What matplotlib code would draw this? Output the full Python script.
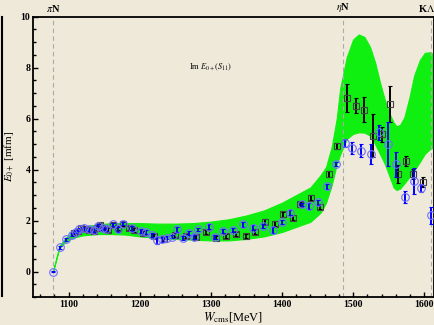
import numpy as np
import matplotlib
matplotlib.use("Agg")
import matplotlib.pyplot as plt
from matplotlib.lines import Line2D
from matplotlib.ticker import MultipleLocator

plt.rcParams['font.family'] = ['Liberation Serif', 'DejaVu Serif']
plt.rcParams['mathtext.fontset'] = 'stix'

bg = '#EFE9DA'

# model band (upper / lower edge)
band_w = [1078, 1087, 1095, 1105, 1120, 1140, 1160, 1180, 1200, 1225, 1250, 1275,
          1300, 1325, 1350, 1375, 1400, 1420, 1440, 1454, 1462, 1470, 1477, 1482,
          1491, 1500, 1508, 1516, 1524, 1531, 1538, 1545, 1551, 1557, 1561, 1566,
          1572, 1579, 1586, 1594, 1601, 1608, 1615]
band_hi = [0.0, 1.0, 1.3, 1.55, 1.75, 1.85, 1.9, 1.9, 1.9, 1.88, 1.88, 1.9,
           1.96, 2.05, 2.2, 2.4, 2.7, 3.0, 3.3, 3.77, 4.1, 4.9, 6.0, 7.2,
           8.4, 9.1, 9.3, 9.2, 8.8, 8.2, 7.4, 6.7, 6.2, 5.85, 5.7, 5.75,
           6.04, 6.8, 7.7, 8.3, 8.58, 8.6, 8.5]
band_lo = [0.0, 0.92, 1.15, 1.32, 1.42, 1.47, 1.47, 1.45, 1.38, 1.32, 1.28, 1.25,
           1.22, 1.22, 1.28, 1.38, 1.55, 1.75, 1.95, 2.3, 2.7, 3.4, 4.2, 4.6,
           5.2, 5.4, 5.46, 5.45, 5.33, 5.0, 4.6, 4.2, 3.75, 3.3, 3.2, 3.25,
           3.45, 3.7, 3.96, 4.3, 4.62, 4.8, 4.9]

# black data (squares)
blk_w = [1108, 1113, 1117, 1123, 1128, 1131, 1136, 1140, 1144, 1150, 1156, 1163,
         1170, 1177, 1185, 1192, 1204, 1220, 1234, 1250, 1265, 1279, 1293, 1307,
         1321, 1336, 1350, 1362, 1376, 1390, 1402, 1416, 1426, 1441, 1453, 1466,
         1478, 1491, 1504, 1516, 1528, 1540, 1552, 1563, 1574, 1584, 1598]
blk_y = [1.5, 1.6, 1.7, 1.68, 1.62, 1.62, 1.6, 1.72, 1.82, 1.7, 1.62, 1.83,
         1.72, 1.86, 1.72, 1.62, 1.52, 1.39, 1.28, 1.43, 1.39, 1.36, 1.56, 1.33,
         1.41, 1.49, 1.38, 1.57, 1.95, 1.88, 2.24, 2.11, 2.63, 2.89, 2.54, 3.81,
         4.92, 6.82, 6.5, 6.35, 5.33, 5.38, 6.57, 3.84, 4.35, 3.84, 3.51]
blk_e = [0.08, 0.08, 0.08, 0.08, 0.08, 0.08, 0.08, 0.08, 0.08, 0.08, 0.08, 0.08,
         0.08, 0.08, 0.08, 0.08, 0.07, 0.07, 0.07, 0.07, 0.07, 0.07, 0.07, 0.07,
         0.08, 0.08, 0.08, 0.09, 0.1, 0.1, 0.1, 0.1, 0.1, 0.1, 0.1, 0.12,
         0.12, 0.55, 0.3, 0.5, 0.85, 0.3, 0.7, 0.35, 0.2, 0.2, 0.2]

# blue data (circles)
blu_w = [1078, 1087.5, 1097, 1105, 1110, 1115, 1121, 1128, 1135, 1142, 1148, 1153,
         1162, 1169, 1176, 1189, 1202, 1209, 1217, 1224, 1231, 1238, 1246, 1253,
         1261, 1269, 1276, 1282, 1297, 1306, 1317, 1331, 1345, 1359, 1373, 1387,
         1400, 1412, 1428, 1438, 1451, 1463, 1476, 1488, 1499, 1511, 1525, 1537,
         1549, 1561, 1573, 1585, 1596, 1610]
blu_y = [0.0, 0.95, 1.27, 1.45, 1.56, 1.65, 1.7, 1.65, 1.62, 1.8, 1.69, 1.65,
         1.85, 1.66, 1.88, 1.69, 1.58, 1.55, 1.43, 1.22, 1.27, 1.33, 1.37, 1.65,
         1.31, 1.52, 1.36, 1.65, 1.76, 1.36, 1.59, 1.63, 1.86, 1.72, 1.78, 1.62,
         1.94, 2.3, 2.63, 2.57, 2.71, 3.34, 4.22, 5.03, 4.85, 4.74, 4.6, 5.46,
         5.0, 4.2, 2.92, 3.55, 3.27, 2.2]
blu_e = [0.03, 0.05, 0.06, 0.06, 0.06, 0.06, 0.06, 0.06, 0.06, 0.06, 0.06, 0.06,
         0.07, 0.1, 0.07, 0.1, 0.07, 0.07, 0.07, 0.12, 0.1, 0.07, 0.07, 0.1,
         0.07, 0.07, 0.07, 0.07, 0.1, 0.07, 0.07, 0.07, 0.1, 0.1, 0.07, 0.12,
         0.07, 0.1, 0.07, 0.1, 0.1, 0.1, 0.08, 0.15, 0.25, 0.25, 0.4, 0.3,
         0.85, 0.5, 0.25, 0.5, 0.15, 0.35]

thresholds = [1077.8, 1486.0, 1609.0]
thr_labels = [r'$\pi$N', r'$\eta$N', r'K$\Lambda$']
thr_label_x = [1077.8, 1486.0, 1604.0]

fig = plt.figure(figsize=(4.35, 3.25), dpi=100, facecolor=bg)
ax = fig.add_axes([0.076, 0.086, 0.922, 0.863], facecolor=bg)

ax.fill_between(band_w, band_lo, band_hi, color='#10F010', lw=0.8,
                edgecolor='#10F010', zorder=1)

for t in thresholds:
    ax.axvline(t, color='#AAAAAA', ls=(0, (4, 3)), lw=0.8, zorder=2)

ax.errorbar(blk_w, blk_y, yerr=blk_e, fmt='s', ms=4.5, mfc='none', mec='#444444',
            mew=0.8, ecolor='black', elinewidth=1.4, capsize=1.2, capthick=1.2, zorder=3)
ax.errorbar(blu_w, blu_y, yerr=blu_e, fmt='o', ms=5.5, mfc='none', mec='#7070FF',
            mew=0.8, ecolor='#0000FF', elinewidth=1.4, capsize=1.2, capthick=1.2, zorder=4)

for t, lab in zip(thr_label_x, thr_labels):
    ax.text(t, 10.12, lab, ha='center', va='bottom', fontsize=7.5, fontweight='bold')

ax.text(1269, 8.0, r'Im $E_{0+}(S_{11})$', fontsize=6, va='center', ha='left')

ax.set_xlim(1050, 1614)
ax.set_ylim(-1, 10)
ax.xaxis.set_major_locator(MultipleLocator(100))
ax.xaxis.set_minor_locator(MultipleLocator(20))
ax.yaxis.set_major_locator(MultipleLocator(2))
ax.yaxis.set_minor_locator(MultipleLocator(0.5))
ax.tick_params(which='both', direction='in', labelsize=7, width=1.0, pad=2)
ax.tick_params(which='major', length=3.5)
ax.tick_params(which='minor', length=2)
for lab in ax.get_xticklabels() + ax.get_yticklabels():
    lab.set_fontweight('bold')
for s in ax.spines.values():
    s.set_linewidth(1.3)

ax.set_xlabel(r'$W_{\mathrm{cms}}$[MeV]', fontsize=9, labelpad=1)
ax.set_ylabel(r'$E_{0+}$ [mfm]', fontsize=8, labelpad=3)

fig.add_artist(Line2D([0.004, 0.004], [0.09, 0.948], color='black', lw=1.5))

fig.savefig('out.png', dpi=100, facecolor=bg)
